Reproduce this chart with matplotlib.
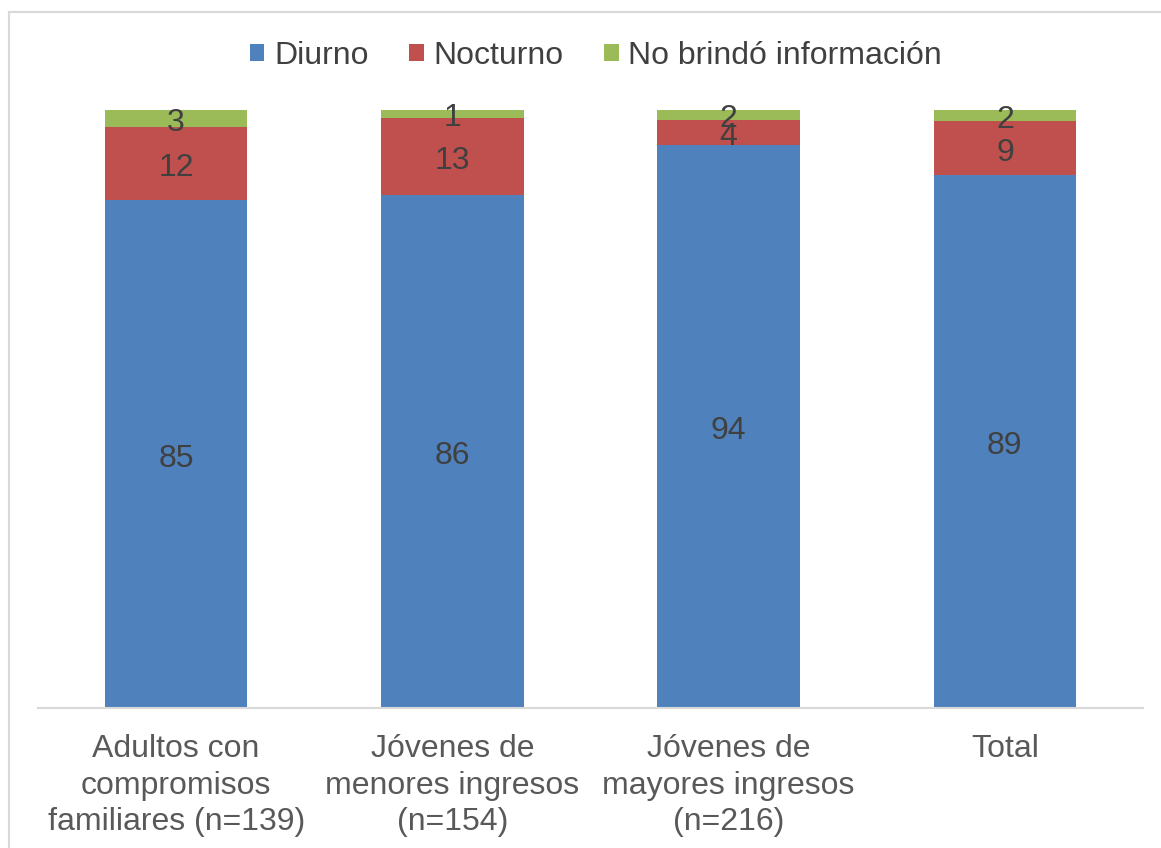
import numpy as np
import matplotlib.pyplot as plt
from matplotlib.patches import Patch
import matplotlib.lines as mlines

categories = ["Adultos con\ncompromisos\nfamiliares (n=139)",
              "Jóvenes de\nmenores ingresos\n(n=154)",
              "Jóvenes de\nmayores ingresos\n(n=216)",
              "Total"]
diurno = [84.9, 85.7, 94.0, 89.1]
nocturno = [12.2, 12.9, 4.2, 8.9]
no_info = [2.9, 1.4, 1.9, 2.0]

series = [("Diurno", diurno, "#4f81bd"),
          ("Nocturno", nocturno, "#c0504d"),
          ("No brindó información", no_info, "#9bbb59")]

plt.rcParams['font.family'] = ['Liberation Sans', 'DejaVu Sans']

W, H = 1161, 848
fig = plt.figure(figsize=(W / 100, H / 100), dpi=100)
ax = fig.add_axes([38 / W, 1 - 708 / H, (1143 - 38) / W, 598.5 / H])

x = np.arange(len(categories))
bottom = np.zeros(len(categories))
for name, vals, color in series:
    vals = np.array(vals, dtype=float)
    ax.bar(x, vals, width=0.515, bottom=bottom, color=color, label=name,
           edgecolor="none")
    for xi, b, v in zip(x, bottom, vals):
        ax.annotate(f"{v:.0f}", (xi, b + v / 2), xytext=(0, -3.3),
                    textcoords="offset points", ha="center", va="center",
                    fontsize=23, color="#404040")
    bottom += vals

ax.set_xlim(-0.5, 3.5)
ax.set_ylim(0, 100)
ax.set_yticks([])
ax.set_xticks(x)
ax.set_xticklabels(categories, fontsize=23, color="#595959", linespacing=1.3)
ax.tick_params(axis="x", length=0, pad=18.5)
for s in ["top", "right", "left"]:
    ax.spines[s].set_visible(False)
ax.spines["bottom"].set_color("#d9d9d9")
ax.spines["bottom"].set_linewidth(1.5)

handles = [Patch(facecolor=c, edgecolor="none") for _, _, c in series]
leg = fig.legend(handles, [n for n, _, _ in series], loc="center",
                 bbox_to_anchor=(596 / W, 1 - 56 / H), ncol=3, frameon=False,
                 fontsize=23, handlelength=0.45, handleheight=0.45,
                 handletextpad=0.3, columnspacing=1.28)
for t in leg.get_texts():
    t.set_color("#404040")

# outer chart frame (left and top edges visible)
fig.add_artist(mlines.Line2D([9 / W, 9 / W], [0, 1 - 12 / H],
                             color="#d9d9d9", lw=1.5))
fig.add_artist(mlines.Line2D([9 / W, 1], [1 - 12 / H, 1 - 12 / H],
                             color="#d9d9d9", lw=1.5))

fig.savefig("out.png", dpi=100)
